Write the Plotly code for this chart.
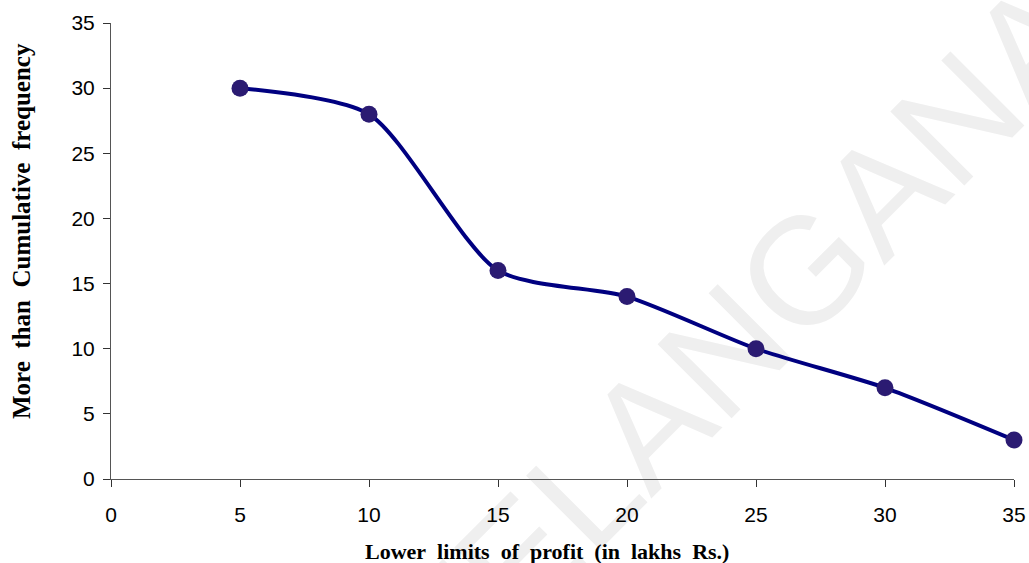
import plotly.graph_objects as go

# Lower limits of profit (in lakhs Rs.) and the "more than" cumulative frequencies
lower_limits = [5, 10, 15, 20, 25, 30, 35]
cum_freq = [30, 28, 16, 14, 10, 7, 3]
tick_vals = [0, 5, 10, 15, 20, 25, 30, 35]

x_title = "Lower\u00a0 limits\u00a0 of\u00a0 profit\u00a0 (in\u00a0 lakhs\u00a0 Rs.)"
y_title = "More\u00a0 than\u00a0 Cumulative\u00a0 frequency"

W, H = 1029, 563
ML, MR, MT, MB = 111, 15, 23, 84
PW, PH = W - ML - MR, H - MT - MB


def px_to_paper_x(px):
    return (px - ML) / PW


def px_to_paper_y(py):
    return (H - MB - py) / PH


fig = go.Figure()
fig.add_trace(go.Scatter(
    x=lower_limits, y=cum_freq,
    mode="lines+markers",
    line=dict(color="#000080", width=4, shape="spline", smoothing=0.7),
    marker=dict(color="#2B1B72", size=17, line=dict(width=0)),
    cliponaxis=False,
    showlegend=False,
))

axis_font = dict(family="Liberation Sans, Arial, sans-serif", size=21, color="#000000")
title_font = dict(family="Liberation Serif, Times New Roman, serif", color="#000000")

fig.update_xaxes(
    range=[0, 35], tickvals=tick_vals, ticks="outside", ticklen=7, tickwidth=1,
    tickcolor="#333333", showline=True, linecolor="#555555", linewidth=1,
    showgrid=False, zeroline=False, tickfont=axis_font, ticklabelstandoff=10,
    automargin=False,
)
fig.update_yaxes(
    range=[0, 35], tickvals=tick_vals, ticks="outside", ticklen=7, tickwidth=1,
    tickcolor="#333333", showline=True, linecolor="#555555", linewidth=1,
    showgrid=False, zeroline=False, tickfont=axis_font, ticklabelstandoff=4,
    automargin=False,
)

# Axis titles
fig.add_annotation(
    text="<b>" + x_title + "</b>", xref="paper", yref="paper",
    x=px_to_paper_x(547), y=px_to_paper_y(551), xanchor="center", yanchor="middle",
    showarrow=False, font=dict(size=22, **title_font),
)
fig.add_annotation(
    text="<b>" + y_title + "</b>", xref="paper", yref="paper",
    x=px_to_paper_x(21), y=px_to_paper_y(231), xanchor="center", yanchor="middle",
    textangle=-90, showarrow=False, font=dict(size=25, **title_font),
)

# Faint diagonal watermark, kept beneath the curve
cx, cy = px_to_paper_x(732), px_to_paper_y(323)
fig.add_shape(
    type="rect", xref="paper", yref="paper",
    x0=cx - 0.01, x1=cx + 0.01, y0=cy - 0.01, y1=cy + 0.01,
    line=dict(width=0), fillcolor="rgba(0,0,0,0)", layer="below",
    label=dict(text="TELANGANA", textangle=-45, textposition="middle center",
               font=dict(family="Liberation Sans, Arial, sans-serif", size=152, color="#EFEFEF")),
)

fig.update_layout(
    width=W, height=H,
    margin=dict(l=ML, r=MR, t=MT, b=MB, autoexpand=False),
    paper_bgcolor="#FFFFFF", plot_bgcolor="rgba(0,0,0,0)",
)

fig.write_html("out.html")
